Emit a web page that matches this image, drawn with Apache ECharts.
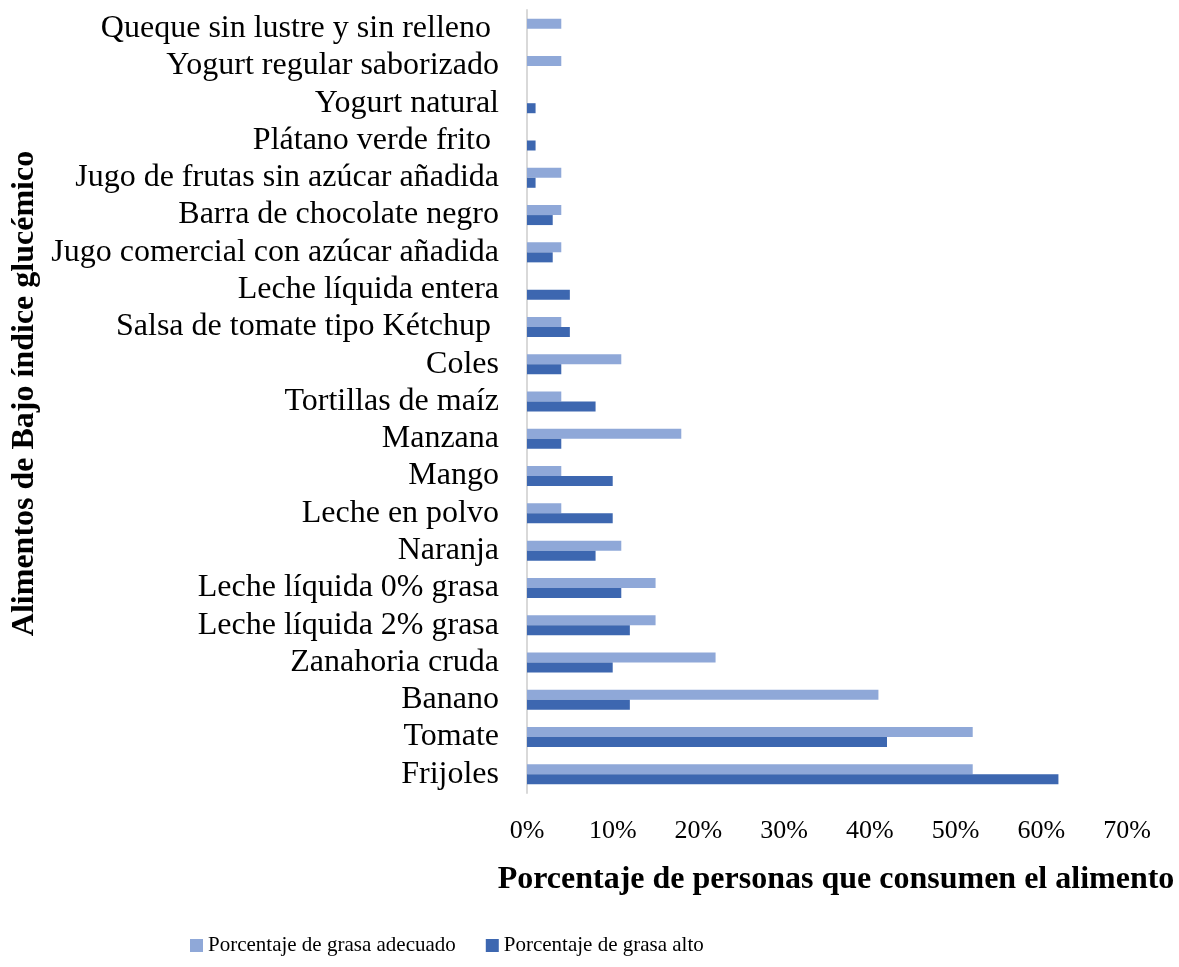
<!DOCTYPE html>
<html>
<head>
<meta charset="utf-8">
<script src="https://cdn.jsdelivr.net/npm/echarts@6/dist/echarts.min.js"></script>
<style>
html, body { margin: 0; padding: 0; background: #fff; }
#main { width: 1179px; height: 967px; }
</style>
</head>
<body>
<div id="main"></div>
<script>
// categories, bottom to top
var alimentos = ['Frijoles', 'Tomate', 'Banano', 'Zanahoria cruda', 'Leche líquida 2% grasa',
    'Leche líquida 0% grasa', 'Naranja', 'Leche en polvo', 'Mango', 'Manzana', 'Tortillas de maíz',
    'Coles', 'Salsa de tomate tipo Kétchup ', 'Leche líquida entera', 'Jugo comercial con azúcar añadida',
    'Barra de chocolate negro', 'Jugo de frutas sin azúcar añadida', 'Plátano verde frito ',
    'Yogurt natural', 'Yogurt regular saborizado', 'Queque sin lustre y sin relleno '];
var grasaAdecuado = [52, 52, 41, 22, 15, 15, 11, 4, 4, 18, 4, 11, 4, 0, 4, 4, 4, 0, 0, 4, 4];
var grasaAlto = [62, 42, 12, 10, 12, 11, 8, 10, 10, 4, 8, 4, 5, 5, 3, 3, 1, 1, 1, 0, 0];

var font = 'Liberation Serif';
var myChart = echarts.init(document.getElementById('main'));
option = {
    color: ['#8FA8D8', '#3D67B0'],
    textStyle: { fontFamily: font, color: '#000' },
    legend: {
        bottom: 6,
        left: 185,
        itemWidth: 13,
        itemHeight: 13,
        itemGap: 30,
        icon: 'rect',
        textStyle: { fontFamily: font, fontSize: 21, color: '#000' },
        data: ['Porcentaje de grasa adecuado', 'Porcentaje de grasa alto']
    },
    grid: { left: 527, right: 52, top: 10, bottom: 174, containLabel: false },
    xAxis: {
        type: 'value',
        min: 0,
        max: 70,
        interval: 10,
        name: 'Porcentaje de personas que consumen el alimento',
        nameLocation: 'middle',
        nameGap: 71,
        nameTextStyle: { fontFamily: font, fontSize: 32, fontWeight: 'bold', color: '#000', padding: [0, 0, 0, 18] },
        axisLine: { show: false },
        axisTick: { show: false },
        splitLine: { show: false },
        axisLabel: { formatter: '{value}%', fontSize: 26, color: '#000', fontFamily: font, margin: 25 }
    },
    yAxis: {
        type: 'category',
        data: alimentos,
        name: 'Alimentos de Bajo índice glucémico',
        nameLocation: 'middle',
        nameRotate: 90,
        nameGap: 486,
        nameTextStyle: { fontFamily: font, fontSize: 32, fontWeight: 'bold', color: '#000', padding: [0, 0, 0, 16] },
        axisLine: { show: true, lineStyle: { color: '#d9d9d9', width: 2 } },
        axisTick: { show: false },
        axisLabel: { interval: 0, fontSize: 32, color: '#000', fontFamily: font, margin: 28 }
    },
    series: [
        {
            name: 'Porcentaje de grasa adecuado',
            type: 'bar',
            barWidth: 10,
            barGap: '0%',
            data: grasaAdecuado
        },
        {
            name: 'Porcentaje de grasa alto',
            type: 'bar',
            barWidth: 10,
            barGap: '0%',
            data: grasaAlto
        }
    ]
};
myChart.setOption(option);
</script>
</body>
</html>
